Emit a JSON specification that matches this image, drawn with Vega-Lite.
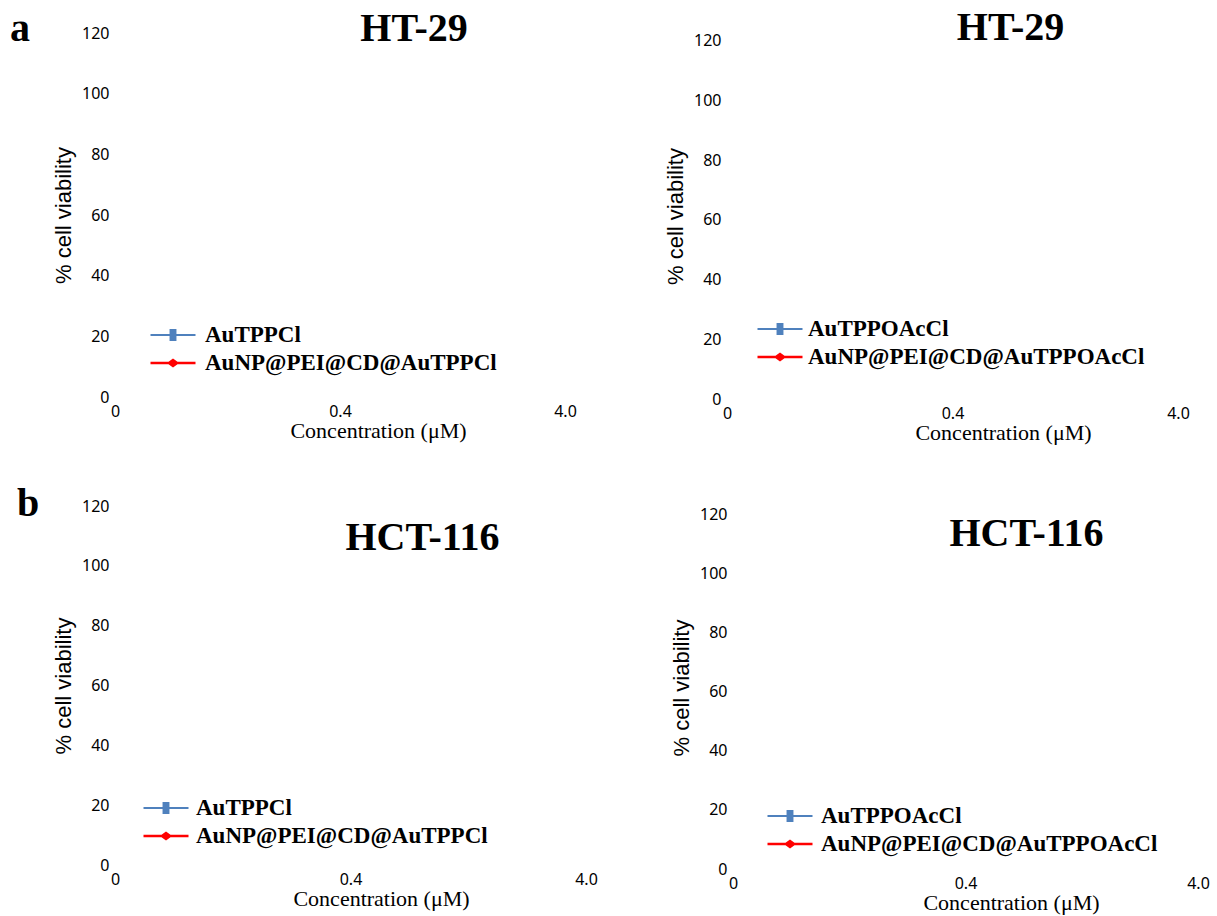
{
  "$schema": "https://vega.github.io/schema/vega-lite/v6.json",
  "padding": {"left": 10, "top": 8, "right": 5, "bottom": 2},
  "background": "white",
  "config": {
    "view": {"stroke": null},
    "axis": {"grid": false, "domain": false, "ticks": false, "labelFont": "Noto Sans", "labelFontSize": 16, "labelColor": "#000000", "titleColor": "#000000"},
    "axisX": {"labelAngle": 0, "labelPadding": 6, "titleFont": "Liberation Serif", "titleFontSize": 22, "titleFontWeight": "normal", "titlePadding": 1},
    "axisY": {"labelPadding": 6, "titleFont": "Liberation Sans", "titleFontSize": 22, "titleFontWeight": "normal", "titlePadding": 6},
    "text": {"font": "Liberation Serif", "fontSize": 40, "fontWeight": "bold", "color": "#000000", "baseline": "alphabetic", "align": "center"},
    "legend": {"labelFont": "Liberation Serif", "labelFontSize": 23, "labelFontWeight": "bold", "labelColor": "#000000", "symbolSize": 900, "padding": 0, "title": null, "labelLimit": 0}
  },
  "spacing": 40,
  "resolve": {"scale": {"color": "independent", "shape": "independent"}, "legend": {"color": "independent", "shape": "independent"}},
  "vconcat": [
    {
      "bounds": "flush",
      "spacing": 162,
      "resolve": {"scale": {"color": "independent", "shape": "independent"}, "legend": {"color": "independent", "shape": "independent"}},
      "hconcat": [
        {
          "width": 450, "height": 364,
          "layer": [
            {
              "data": {"values": []},
              "mark": {"type": "point", "filled": true, "opacity": 1},
              "encoding": {
                "x": {"field": "concentration", "type": "nominal", "scale": {"type": "point", "domain": ["0", "0.4", "4.0"], "padding": 0}, "axis": {"title": "Concentration (μM)", "titleX": 263}},
                "y": {"field": "viability", "type": "quantitative", "scale": {"domain": [0, 120], "nice": false}, "axis": {"title": "% cell viability", "values": [0, 20, 40, 60, 80, 100, 120]}},
                "color": {"field": "series", "type": "nominal", "scale": {"domain": ["AuTPPCl", "AuNP@PEI@CD@AuTPPCl"], "range": ["#4f81bd", "#ff0000"]}, "legend": {"orient": "none", "legendX": 42, "legendY": 286, "rowPadding": -5, "labelOffset": 16}},
                "shape": {"field": "series", "type": "nominal", "scale": {"domain": ["AuTPPCl", "AuNP@PEI@CD@AuTPPCl"], "range": ["M-1.5,-0.07H-0.23V-0.4H0.23V-0.07H1.5V0.07H0.23V0.4H-0.23V0.07H-1.5Z", "M-1.5,-0.08H-0.3L0,-0.3L0.3,-0.08H1.5V0.08H0.3L0,0.3L-0.3,0.08H-1.5Z"]}, "legend": {"orient": "none", "legendX": 42, "legendY": 286, "rowPadding": -5, "labelOffset": 16}}
              }
            },
            {
              "data": {"values": [{"label": "HT-29"}]},
              "mark": {"type": "text", "dx": 74},
              "encoding": {"x": {"datum": "0.4"}, "y": {"datum": 117.4}, "text": {"field": "label"}}
            },
            {
              "data": {"values": [{"label": "a"}]},
              "mark": {"type": "text", "dx": -95},
              "encoding": {"x": {"datum": "0"}, "y": {"datum": 117.4}, "text": {"field": "label"}}
            }
          ]
        },
        {
          "width": 451, "height": 366,
          "layer": [
            {
              "data": {"values": []},
              "mark": {"type": "point", "filled": true, "opacity": 1},
              "encoding": {
                "x": {"field": "concentration", "type": "nominal", "scale": {"type": "point", "domain": ["0", "0.4", "4.0"], "padding": 0}, "axis": {"title": "Concentration (μM)", "titleX": 276}},
                "y": {"field": "viability", "type": "quantitative", "scale": {"domain": [0, 122.68], "nice": false}, "axis": {"title": "% cell viability", "values": [0, 20, 40, 60, 80, 100, 120]}},
                "color": {"field": "series", "type": "nominal", "scale": {"domain": ["AuTPPOAcCl", "AuNP@PEI@CD@AuTPPOAcCl"], "range": ["#4f81bd", "#ff0000"]}, "legend": {"orient": "none", "legendX": 37, "legendY": 280, "rowPadding": -2, "labelOffset": 12}},
                "shape": {"field": "series", "type": "nominal", "scale": {"domain": ["AuTPPOAcCl", "AuNP@PEI@CD@AuTPPOAcCl"], "range": ["M-1.5,-0.07H-0.23V-0.4H0.23V-0.07H1.5V0.07H0.23V0.4H-0.23V0.07H-1.5Z", "M-1.5,-0.08H-0.3L0,-0.3L0.3,-0.08H1.5V0.08H0.3L0,0.3L-0.3,0.08H-1.5Z"]}, "legend": {"orient": "none", "legendX": 37, "legendY": 280, "rowPadding": -2, "labelOffset": 12}}
              }
            },
            {
              "data": {"values": [{"label": "HT-29"}]},
              "mark": {"type": "text", "dx": 58},
              "encoding": {"x": {"datum": "0.4"}, "y": {"datum": 120.3}, "text": {"field": "label"}}
            }
          ]
        }
      ]
    },
    {
      "bounds": "flush",
      "spacing": 147,
      "resolve": {"scale": {"color": "independent", "shape": "independent"}, "legend": {"color": "independent", "shape": "independent"}},
      "hconcat": [
        {
          "width": 471, "height": 359,
          "layer": [
            {
              "data": {"values": []},
              "mark": {"type": "point", "filled": true, "opacity": 1},
              "encoding": {
                "x": {"field": "concentration", "type": "nominal", "scale": {"type": "point", "domain": ["0", "0.4", "4.0"], "padding": 0}, "axis": {"title": "Concentration (μM)", "titleX": 266}},
                "y": {"field": "viability", "type": "quantitative", "scale": {"domain": [0, 120], "nice": false}, "axis": {"title": "% cell viability", "values": [0, 20, 40, 60, 80, 100, 120]}},
                "color": {"field": "series", "type": "nominal", "scale": {"domain": ["AuTPPCl", "AuNP@PEI@CD@AuTPPCl"], "range": ["#4f81bd", "#ff0000"]}, "legend": {"orient": "none", "legendX": 35, "legendY": 286, "rowPadding": -6, "labelOffset": 14}},
                "shape": {"field": "series", "type": "nominal", "scale": {"domain": ["AuTPPCl", "AuNP@PEI@CD@AuTPPCl"], "range": ["M-1.5,-0.07H-0.23V-0.4H0.23V-0.07H1.5V0.07H0.23V0.4H-0.23V0.07H-1.5Z", "M-1.5,-0.08H-0.3L0,-0.3L0.3,-0.08H1.5V0.08H0.3L0,0.3L-0.3,0.08H-1.5Z"]}, "legend": {"orient": "none", "legendX": 35, "legendY": 286, "rowPadding": -6, "labelOffset": 14}}
              }
            },
            {
              "data": {"values": [{"label": "HCT-116"}]},
              "mark": {"type": "text", "dx": 72},
              "encoding": {"x": {"datum": "0.4"}, "y": {"datum": 105.3}, "text": {"field": "label"}}
            },
            {
              "data": {"values": [{"label": "b"}]},
              "mark": {"type": "text", "dx": -87},
              "encoding": {"x": {"datum": "0"}, "y": {"datum": 116.7}, "text": {"field": "label"}}
            }
          ]
        },
        {
          "width": 465, "height": 363,
          "layer": [
            {
              "data": {"values": []},
              "mark": {"type": "point", "filled": true, "opacity": 1},
              "encoding": {
                "x": {"field": "concentration", "type": "nominal", "scale": {"type": "point", "domain": ["0", "0.4", "4.0"], "padding": 0}, "axis": {"title": "Concentration (μM)", "titleX": 278}},
                "y": {"field": "viability", "type": "quantitative", "scale": {"domain": [0, 122.71], "nice": false}, "axis": {"title": "% cell viability", "values": [0, 20, 40, 60, 80, 100, 120]}},
                "color": {"field": "series", "type": "nominal", "scale": {"domain": ["AuTPPOAcCl", "AuNP@PEI@CD@AuTPPOAcCl"], "range": ["#4f81bd", "#ff0000"]}, "legend": {"orient": "none", "legendX": 41, "legendY": 294, "rowPadding": -1, "labelOffset": 15}},
                "shape": {"field": "series", "type": "nominal", "scale": {"domain": ["AuTPPOAcCl", "AuNP@PEI@CD@AuTPPOAcCl"], "range": ["M-1.5,-0.07H-0.23V-0.4H0.23V-0.07H1.5V0.07H0.23V0.4H-0.23V0.07H-1.5Z", "M-1.5,-0.08H-0.3L0,-0.3L0.3,-0.08H1.5V0.08H0.3L0,0.3L-0.3,0.08H-1.5Z"]}, "legend": {"orient": "none", "legendX": 41, "legendY": 294, "rowPadding": -1, "labelOffset": 15}}
              }
            },
            {
              "data": {"values": [{"label": "HCT-116"}]},
              "mark": {"type": "text", "dx": 61},
              "encoding": {"x": {"datum": "0.4"}, "y": {"datum": 109.2}, "text": {"field": "label"}}
            }
          ]
        }
      ]
    }
  ]
}
